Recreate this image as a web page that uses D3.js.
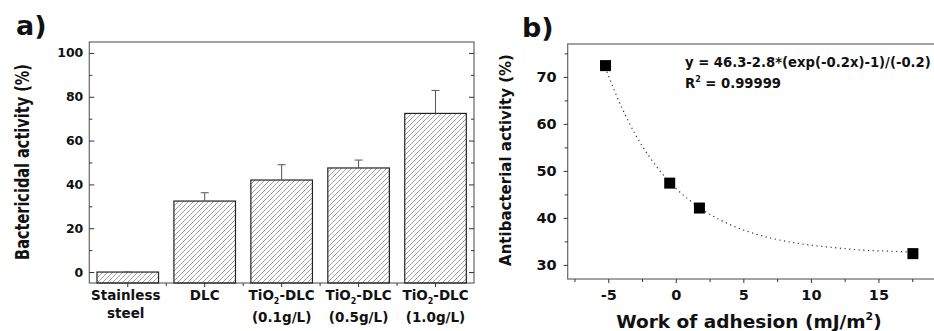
<!DOCTYPE html>
<html>
<head>
<meta charset="utf-8">
<script src="https://cdn.jsdelivr.net/npm/d3@7"></script>
<style>
  body { margin: 0; background: #fff; }
  text { font-family: "DejaVu Sans", Arial, sans-serif; font-weight: bold; fill: #111; }
  .axis path, .axis line { stroke: #333; }
</style>
</head>
<body>
<div id="my_dataviz"></div>
<script>

// panel a data
var groups = ["Stainless steel", "DLC", "TiO2-DLC (0.1g/L)", "TiO2-DLC (0.5g/L)", "TiO2-DLC (1.0g/L)"]
var activity = [0, 32.4, 42.0, 47.5, 72.4]
var activityErr = [0, 3.8, 7.0, 3.6, 10.5]
var yTicksA = [0, 20, 40, 60, 80, 100]

// panel b data
var adhesion = [-5.2, -0.45, 1.75, 17.55]
var antibact = [72.4, 47.4, 42.1, 32.4]
// dotted fit line
var fitX = [-5.1, -4, -3, -2, -1, 0, 1, 2, 4, 6, 8, 10, 12, 14, 16, 17.6]
var fitY = [71.1, 63.5, 57.8, 53.2, 49.4, 46.3, 43.8, 41.7, 38.6, 36.5, 35.1, 34.2, 33.6, 33.1, 32.9, 32.7]
var xTicksB = [-5, 0, 5, 10, 15]
var yTicksB = [30, 40, 50, 60, 70]

var W = 934, H = 331;

var svg = d3.select("#my_dataviz")
  .append("svg")
    .attr("width", W)
    .attr("height", H)

// hatch pattern for the bars
svg.append("defs").append("pattern")
    .attr("id", "hatch")
    .attr("patternUnits", "userSpaceOnUse")
    .attr("width", 5)
    .attr("height", 5)
  .append("path")
    .attr("d", "M-1,1 l2,-2 M0,5 l5,-5 M4,6 l2,-2")
    .attr("stroke", "#8a8a8a")
    .attr("stroke-width", 0.8)

// ---------------- panel a ----------------
var a = { left: 89.3, right: 474, top: 42, bottom: 283 }

var x = d3.scaleBand()
  .domain(groups)
  .range([a.left, a.right])
  .paddingInner(0.2)
  .paddingOuter(0.1)

var y = d3.scaleLinear()
  .domain([-5, 105])
  .range([a.bottom, a.top])

// frame
svg.append("rect")
  .attr("x", a.left).attr("y", a.top)
  .attr("width", a.right - a.left).attr("height", a.bottom - a.top)
  .attr("fill", "none").attr("stroke", "#666").attr("stroke-width", 1.2)

// bars
svg.selectAll(".bar")
  .data(groups)
  .enter()
  .append("rect")
    .attr("class", "bar")
    .attr("x", function(d) { return x(d) })
    .attr("y", function(d, i) { return y(activity[i]) })
    .attr("width", x.bandwidth())
    .attr("height", function(d, i) { return y(-5) - y(activity[i]) })
    .attr("fill", "url(#hatch)")
    .attr("stroke", "#222")
    .attr("stroke-width", 1.2)

// error bars
var eb = svg.selectAll(".err")
  .data(groups)
  .enter()
  .append("g")
    .attr("class", "err")
eb.append("line")
  .attr("x1", function(d) { return x(d) + x.bandwidth() / 2 })
  .attr("x2", function(d) { return x(d) + x.bandwidth() / 2 })
  .attr("y1", function(d, i) { return y(activity[i]) })
  .attr("y2", function(d, i) { return y(activity[i] + activityErr[i]) })
  .attr("stroke", "#555").attr("stroke-width", 1)
eb.append("line")
  .attr("x1", function(d) { return x(d) + x.bandwidth() / 2 - 4 })
  .attr("x2", function(d) { return x(d) + x.bandwidth() / 2 + 4 })
  .attr("y1", function(d, i) { return y(activity[i] + activityErr[i]) })
  .attr("y2", function(d, i) { return y(activity[i] + activityErr[i]) })
  .attr("stroke", "#555").attr("stroke-width", 1)

// left axis, ticks inside
var yAxisA = svg.append("g")
  .attr("class", "axis")
  .attr("transform", "translate(" + a.left + ",0)")
  .call(d3.axisLeft(y).tickValues(yTicksA).tickSize(-5).tickPadding(6))
yAxisA.select(".domain").remove()
yAxisA.selectAll("text").style("font-size", "12.5px")
svg.append("g")
  .attr("class", "axis")
  .attr("transform", "translate(" + a.left + ",0)")
  .call(d3.axisLeft(y).tickValues([10, 30, 50, 70, 90]).tickSize(-3).tickFormat(""))
  .select(".domain").remove()

// right axis mirror ticks
svg.append("g")
  .attr("class", "axis")
  .attr("transform", "translate(" + a.right + ",0)")
  .call(d3.axisRight(y).tickValues(yTicksA).tickSize(-5).tickFormat(""))
  .select(".domain").remove()
svg.append("g")
  .attr("class", "axis")
  .attr("transform", "translate(" + a.right + ",0)")
  .call(d3.axisRight(y).tickValues([10, 30, 50, 70, 90]).tickSize(-3).tickFormat(""))
  .select(".domain").remove()

// bottom ticks: majors at bar centres, minors between
var xAxisA = svg.append("g").attr("class", "axis")
xAxisA.selectAll(".maj")
  .data(groups).enter().append("line")
    .attr("x1", function(d) { return x(d) + x.bandwidth() / 2 })
    .attr("x2", function(d) { return x(d) + x.bandwidth() / 2 })
    .attr("y1", a.bottom).attr("y2", a.bottom + 4)
xAxisA.selectAll(".min")
  .data(groups.slice(1)).enter().append("line")
    .attr("x1", function(d) { return x(d) - x.step() * 0.1 })
    .attr("x2", function(d) { return x(d) - x.step() * 0.1 })
    .attr("y1", a.bottom).attr("y2", a.bottom + 3)

// category labels
var lab = svg.selectAll(".cat")
  .data(groups)
  .enter()
  .append("text")
    .attr("class", "cat")
    .attr("text-anchor", "middle")
    .style("font-size", "13.5px")
    .attr("transform", function(d) { return "translate(" + (x(d) + x.bandwidth() / 2) + ",0)" })
lab.each(function(d) {
  var t = d3.select(this)
  if (d.indexOf("TiO2") === 0) {
    var first = t.append("tspan").attr("x", 0).attr("y", 300)
    first.append("tspan").text("TiO")
    first.append("tspan").text("2").attr("dy", 4).style("font-size", "8px")
    first.append("tspan").text("-DLC").attr("dy", -4)
    t.append("tspan").attr("x", 0).attr("y", 322).text(d.slice(9))
  } else if (d.indexOf(" ") > 0) {
    var parts = d.split(" ")
    t.append("tspan").attr("x", -2).attr("y", 300).text(parts[0])
    t.append("tspan").attr("x", -2).attr("y", 318).text(parts[1])
  } else {
    t.append("tspan").attr("x", 0).attr("y", 300).text(d)
  }
})

// y label a
svg.append("text")
  .attr("text-anchor", "middle")
  .attr("transform", "translate(29,162) rotate(-90) scale(1,1.3)")
  .style("font-size", "14.5px")
  .text("Bactericidal activity (%)")

svg.append("text")
  .attr("x", 16).attr("y", 35)
  .style("font-size", "27px")
  .text("a)")

// ---------------- panel b ----------------
var b = { left: 567.7, right: 946, top: 44, bottom: 279 }

var xb = d3.scaleLinear()
  .domain([-8, 20])
  .range([b.left, b.right])
var yb = d3.scaleLinear()
  .domain([27, 77])
  .range([b.bottom, b.top])

svg.append("rect")
  .attr("x", b.left).attr("y", b.top)
  .attr("width", b.right - b.left).attr("height", b.bottom - b.top)
  .attr("fill", "none").attr("stroke", "#666").attr("stroke-width", 1.2)

var yAxisB = svg.append("g")
  .attr("class", "axis")
  .attr("transform", "translate(" + b.left + ",0)")
  .call(d3.axisLeft(yb).tickValues(yTicksB).tickSize(4).tickPadding(7))
yAxisB.select(".domain").remove()
yAxisB.selectAll("text").style("font-size", "14.5px")
svg.append("g")
  .attr("class", "axis")
  .attr("transform", "translate(" + b.left + ",0)")
  .call(d3.axisLeft(yb).tickValues([35, 45, 55, 65, 75]).tickSize(3).tickFormat(""))
  .select(".domain").remove()

var xAxisB = svg.append("g")
  .attr("class", "axis")
  .attr("transform", "translate(0," + b.bottom + ")")
  .call(d3.axisBottom(xb).tickValues(xTicksB).tickSize(4).tickPadding(7).tickFormat(function(d) { return String(d) }))
xAxisB.select(".domain").remove()
xAxisB.selectAll("text").style("font-size", "14.5px")
svg.append("g")
  .attr("class", "axis")
  .attr("transform", "translate(0," + b.bottom + ")")
  .call(d3.axisBottom(xb).tickValues([-7.5, -2.5, 2.5, 7.5, 12.5, 17.5]).tickSize(3).tickFormat(""))
  .select(".domain").remove()

// fit line
var fit = fitX.map(function(v, i) { return [v, fitY[i]] })
svg.append("path")
  .datum(fit)
  .attr("fill", "none")
  .attr("stroke", "#333")
  .attr("stroke-width", 1.2)
  .attr("stroke-dasharray", "1.2,3.5")
  .attr("d", d3.line()
    .curve(d3.curveMonotoneX)
    .x(function(d) { return xb(d[0]) })
    .y(function(d) { return yb(d[1]) }))

// points
svg.selectAll(".pt")
  .data(adhesion)
  .enter()
  .append("rect")
    .attr("x", function(d) { return xb(d) - 5.5 })
    .attr("y", function(d, i) { return yb(antibact[i]) - 5.5 })
    .attr("width", 11)
    .attr("height", 11)
    .attr("fill", "#000")

// equation
svg.append("text")
  .attr("x", 685).attr("y", 67)
  .style("font-size", "13.2px")
  .text("y = 46.3-2.8*(exp(-0.2x)-1)/(-0.2)")
var r2 = svg.append("text")
  .attr("x", 685).attr("y", 88)
  .style("font-size", "13.2px")
r2.append("tspan").text("R")
r2.append("tspan").text("2").attr("dy", -6).style("font-size", "8px")
r2.append("tspan").text(" = 0.99999").attr("dy", 6)

// axis titles b
var xt = svg.append("text")
  .attr("x", 749).attr("y", 328)
  .attr("text-anchor", "middle")
  .style("font-size", "18.5px")
xt.append("tspan").text("Work of adhesion (mJ/m")
xt.append("tspan").text("2").attr("dy", -8).style("font-size", "11px")
xt.append("tspan").text(")").attr("dy", 8)

svg.append("text")
  .attr("text-anchor", "middle")
  .attr("transform", "translate(511,160) rotate(-90)")
  .style("font-size", "15px")
  .text("Antibacterial activity (%)")

svg.append("text")
  .attr("x", 522).attr("y", 37)
  .style("font-size", "27px")
  .text("b)")

</script>
</body>
</html>
